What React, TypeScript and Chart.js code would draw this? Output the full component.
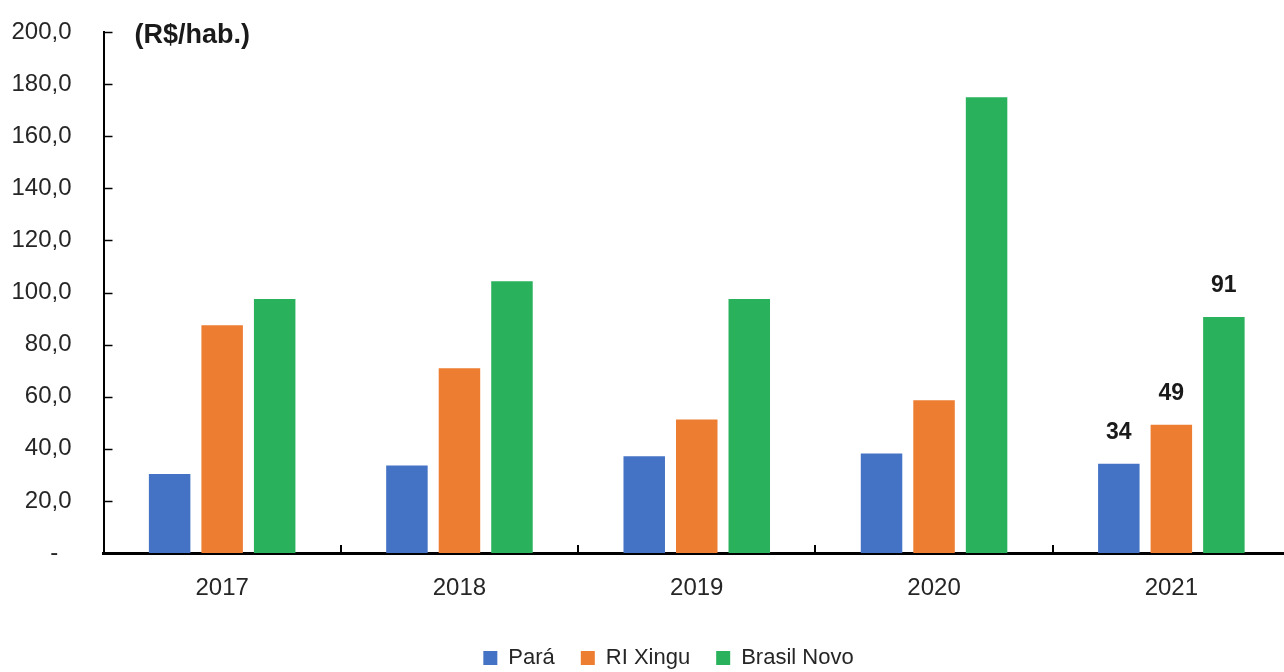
import React, { useEffect, useRef } from "react";
import { Chart, registerables } from "chart.js";

Chart.register(...registerables);

const categories = ["2017", "2018", "2019", "2020", "2021"];
const seriesNames = ["Pará", "RI Xingu", "Brasil Novo"];
const para = [30.3, 33.6, 37.1, 38.2, 34.3];
const riXingu = [87.4, 70.9, 51.2, 58.6, 49.2];
const brasilNovo = [97.5, 104.3, 97.5, 175.0, 90.6];
const seriesColors = ["#4472C4", "#ED7D31", "#29B15B"];
const yTicks = [0, 20, 40, 60, 80, 100, 120, 140, 160, 180, 200];
const labeledCategory = "2021";
const unitLabel = "(R$/hab.)";

const FONT = "'Liberation Sans', Arial, sans-serif";

const decorPlugin = {
  id: "decor",
  afterLayout(chart: any) {
    const lg = chart.legend;
    if (lg) {
      lg.left += 23.5;
      lg.right += 23.5;
    }
  },
  afterDraw(chart: any) {
    const { ctx, chartArea, scales } = chart;
    const y = scales.y;
    const x = scales.x;
    ctx.save();
    ctx.strokeStyle = "#000";
    ctx.lineWidth = 1.5;
    yTicks.forEach((v) => {
      const py = Math.round(y.getPixelForValue(v)) + 0.5;
      ctx.beginPath();
      ctx.moveTo(chartArea.left, py);
      ctx.lineTo(chartArea.left + 9, py);
      ctx.stroke();
    });
    const w = x.getPixelForValue(1) - x.getPixelForValue(0);
    ctx.lineWidth = 2;
    for (let i = 0; i <= categories.length; i++) {
      const px = Math.round(x.getPixelForValue(i) - w / 2);
      ctx.beginPath();
      ctx.moveTo(px, chartArea.bottom);
      ctx.lineTo(px, chartArea.bottom - 8);
      ctx.stroke();
    }
    ctx.fillStyle = "#1a1a1a";
    ctx.font = `bold 27px ${FONT}`;
    ctx.textAlign = "left";
    ctx.textBaseline = "middle";
    ctx.fillText(unitLabel, chartArea.left + 31, chartArea.top + 4);
    const idx = categories.indexOf(labeledCategory);
    ctx.font = `bold 23px ${FONT}`;
    ctx.textAlign = "center";
    chart.data.datasets.forEach((ds: any, di: number) => {
      const meta = chart.getDatasetMeta(di);
      const el = meta.data[idx];
      if (!el) return;
      ctx.fillText(String(Math.round(ds.data[idx])), el.x, el.y - 31);
    });
    ctx.restore();
  },
};

export default function App() {
  const ref = useRef<HTMLCanvasElement | null>(null);
  useEffect(() => {
    if (!ref.current) return;
    const chart = new Chart(ref.current, {
      type: "bar",
      data: {
        labels: categories,
        datasets: [para, riXingu, brasilNovo].map((d, i) => ({
          label: seriesNames[i],
          data: d,
          backgroundColor: seriesColors[i],
          borderWidth: 0,
          categoryPercentage: 0.664,
          barPercentage: 0.79,
        })),
      },
      options: {
        animation: false,
        responsive: true,
        maintainAspectRatio: false,
        layout: { padding: { left: 0, right: 47, top: 32, bottom: 1 } },
        plugins: {
          tooltip: { enabled: false },
          legend: {
            position: "bottom",
            labels: {
              boxWidth: 14,
              boxHeight: 14,
              padding: 26,
              color: "#262626",
              font: { size: 22, family: FONT },
            },
          },
        },
        scales: {
          x: {
            grid: { display: false, drawTicks: false },
            border: { display: true, color: "#000", width: 3 },
            ticks: { color: "#262626", padding: 21, font: { size: 24, family: FONT } },
            afterFit: (s: any) => {
              s.height = 68;
            },
          },
          y: {
            min: 0,
            max: 200,
            grid: { display: false, drawTicks: false },
            border: { display: true, color: "#000", width: 2 },
            ticks: {
              stepSize: 20,
              padding: 32,
              color: "#262626",
              font: { size: 24, family: FONT },
              callback: (v: any) => (Number(v) === 0 ? "-  " : Number(v).toFixed(1).replace(".", ",")),
            },
            afterFit: (s: any) => {
              s.width = 103.5;
              s.paddingTop = 0;
              s.paddingBottom = 0;
            },
          },
        },
      },
      plugins: [decorPlugin],
    });
    return () => chart.destroy();
  }, []);
  return (
    <div style={{ position: "fixed", left: 0, top: 0, width: 1284, height: 672, overflow: "hidden", background: "#fff" }}>
      <div style={{ position: "relative", width: 1337, height: 680 }}>
        <canvas ref={ref} />
      </div>
    </div>
  );
}
